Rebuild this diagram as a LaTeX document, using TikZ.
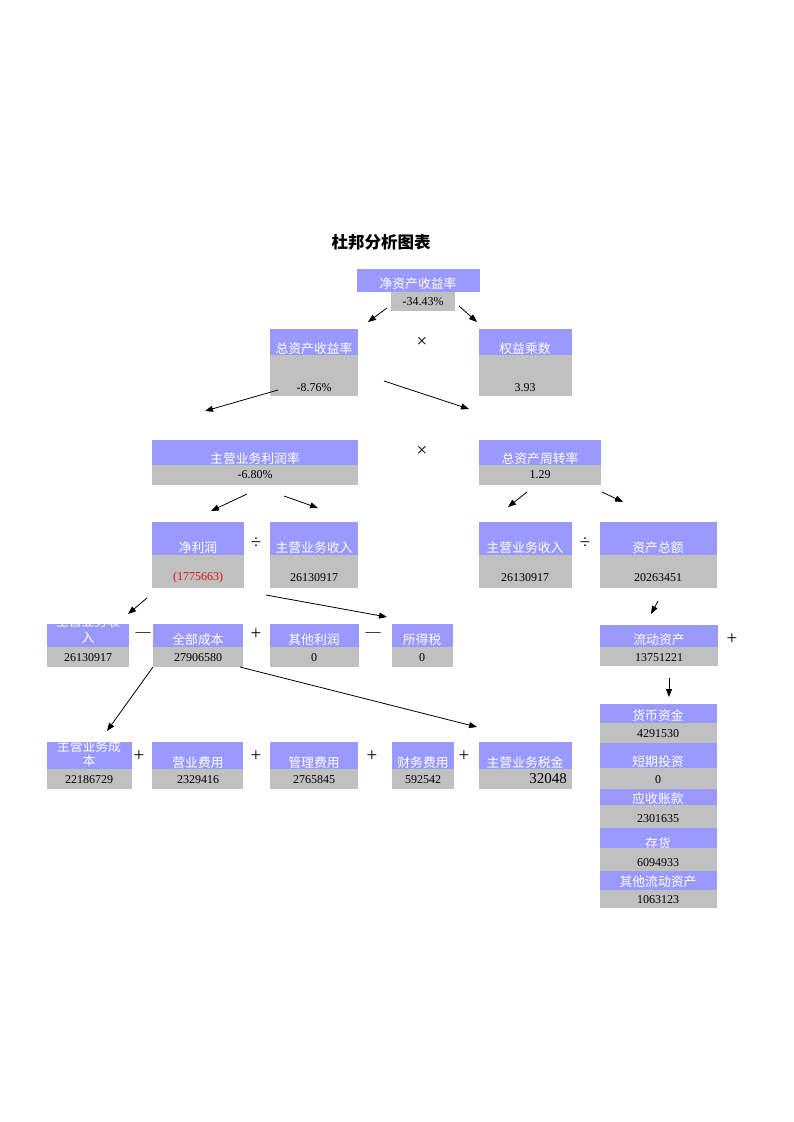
\documentclass[tikz,border=0pt]{standalone}
\usepackage{fontspec}
\setmainfont{Liberation Serif}
\newfontfamily\cjk{Noto Sans CJK SC}
\usetikzlibrary{arrows.meta}
\definecolor{bluec}{HTML}{9999FF}
\definecolor{grayc}{HTML}{C0C0C0}
\definecolor{redc}{HTML}{DD1111}
\newcommand\cell[6]{\node[#6, anchor=north west, minimum width={#4-#2}, minimum height={#5-#3}] (#1) at (#2,#3) {};}
\begin{document}
\begin{tikzpicture}[x=1pt,y=-1pt,
  bb/.style={fill=bluec, draw=none, inner sep=0pt, outer sep=0pt},
  gb/.style={fill=grayc, draw=none, inner sep=0pt, outer sep=0pt},
  lbl/.style={inner sep=0pt, text=white, font=\cjk\fontsize{12.8}{14}\selectfont},
  val/.style={inner sep=0pt, text=black, font=\fontsize{12}{13}\selectfont},
  op/.style={inner sep=0pt, font=\fontsize{19}{20}\selectfont},
  arr/.style={line width=0.8pt, -{Triangle[length=8pt,width=6pt]}}]
\fill[white] (0,0) rectangle (793,1122);
\useasboundingbox (0,0) rectangle (793,1122);
\node[inner sep=0pt, font=\cjk\bfseries\fontsize{16.5}{18}\selectfont] (title) at (381,242) {杜邦分析图表};
% row 1
\cell{r1b}{357}{269}{480}{292}{bb}
\node[lbl] (r1l) at (418,284) {净资产收益率};
\cell{r1g}{391}{292}{455}{311}{gb}
\node[val] (r1v) at (423,302) {-34.43\%};
\coordinate (a1s) at (387,308); \coordinate (a1e) at (368,322);
\coordinate (a2s) at (459,306); \coordinate (a2e) at (477,322);
\draw[arr] (a1s) -- (a1e);
\draw[arr] (a2s) -- (a2e);
% row 2
\cell{r2ab}{270}{329}{358}{355}{bb}
\node[lbl] (r2al) at (314,349) {总资产收益率};
\cell{r2ag}{270}{355}{358}{396}{gb}
\node[val] (r2av) at (314,388) {-8.76\%};
\node[op] (x1) at (422,342) {×};
\cell{r2bb}{479}{329}{572}{355}{bb}
\node[lbl] (r2bl) at (525,349) {权益乘数};
\cell{r2bg}{479}{355}{572}{396}{gb}
\node[val] (r2bv) at (525,388) {3.93};
\coordinate (a3s) at (278,390); \coordinate (a3e) at (205,411);
\coordinate (a4s) at (384,381); \coordinate (a4e) at (469,409);
\draw[arr] (a3s) -- (a3e);
\draw[arr] (a4s) -- (a4e);
% row 3
\cell{r3ab}{152}{440}{358}{465}{bb}
\node[lbl] (r3al) at (255,459) {主营业务利润率};
\cell{r3ag}{152}{465}{358}{485}{gb}
\node[val] (r3av) at (255,475) {-6.80\%};
\node[op] (x2) at (422,451) {×};
\cell{r3bb}{479}{440}{601}{465}{bb}
\node[lbl] (r3bl) at (540,459) {总资产周转率};
\cell{r3bg}{479}{465}{601}{485}{gb}
\node[val] (r3bv) at (540,475) {1.29};
\coordinate (a5s) at (247,494); \coordinate (a5e) at (211,511);
\coordinate (a6s) at (284,496); \coordinate (a6e) at (318,508);
\coordinate (a7s) at (527,492); \coordinate (a7e) at (508,507);
\coordinate (a8s) at (602,492); \coordinate (a8e) at (623,502);
\draw[arr] (a5s) -- (a5e);
\draw[arr] (a6s) -- (a6e);
\draw[arr] (a7s) -- (a7e);
\draw[arr] (a8s) -- (a8e);
% row 4
\cell{r4ab}{152}{522}{244}{555}{bb}
\node[lbl] (r4al) at (198,548) {净利润};
\cell{r4ag}{152}{555}{244}{588}{gb}
\node[val, text=redc] (r4av) at (198,578) {(1775663)};
\node[op] (d1) at (256,543) {÷};
\cell{r4bb}{270}{522}{358}{555}{bb}
\node[lbl] (r4bl) at (314,548) {主营业务收入};
\cell{r4bg}{270}{555}{358}{588}{gb}
\node[val] (r4bv) at (314,578) {26130917};
\cell{r4cb}{479}{522}{572}{555}{bb}
\node[lbl] (r4cl) at (525,548) {主营业务收入};
\cell{r4cg}{479}{555}{572}{588}{gb}
\node[val] (r4cv) at (525,578) {26130917};
\node[op] (d2) at (585,543) {÷};
\cell{r4db}{600}{522}{717}{555}{bb}
\node[lbl] (r4dl) at (658,548) {资产总额};
\cell{r4dg}{600}{555}{717}{588}{gb}
\node[val] (r4dv) at (658,578) {20263451};
\coordinate (a9s) at (147,598); \coordinate (a9e) at (128,614);
\coordinate (a10s) at (266,595); \coordinate (a10e) at (387,617);
\coordinate (a11s) at (658,601); \coordinate (a11e) at (651,614);
\draw[arr] (a9s) -- (a9e);
\draw[arr] (a10s) -- (a10e);
\draw[arr] (a11s) -- (a11e);
% row 5
\cell{r5ab}{47}{624}{129}{647}{bb}
\begin{scope}
\clip (47,624) rectangle (129,647);
\node[lbl] (r5al1) at (88,622) {主营业务收};
\node[lbl] (r5al2) at (88,638) {入};
\end{scope}
\cell{r5ag}{47}{647}{129}{667}{gb}
\node[val] (r5av) at (88,658) {26130917};
\node[op, font=\fontsize{15}{16}\selectfont] (m1) at (143,635) {—};
\cell{r5bb}{153}{624}{243}{647}{bb}
\node[lbl] (r5bl) at (198,640) {全部成本};
\cell{r5bg}{153}{647}{243}{667}{gb}
\node[val] (r5bv) at (198,658) {27906580};
\node[op] (p1) at (256,634) {+};
\cell{r5cb}{270}{624}{359}{647}{bb}
\node[lbl] (r5cl) at (314,640) {其他利润};
\cell{r5cg}{270}{647}{359}{667}{gb}
\node[val] (r5cv) at (314,658) {0};
\node[op, font=\fontsize{15}{16}\selectfont] (m2) at (373,635) {—};
\cell{r5db}{392}{624}{453}{647}{bb}
\node[lbl] (r5dl) at (422,640) {所得税};
\cell{r5dg}{392}{647}{453}{667}{gb}
\node[val] (r5dv) at (422,658) {0};
\cell{r5eb}{600}{625}{718}{647}{bb}
\node[lbl] (r5el) at (659,640) {流动资产};
\cell{r5eg}{600}{647}{718}{666}{gb}
\node[val] (r5ev) at (659,658) {13751221};
\node[op] (p2) at (732,639) {+};
\coordinate (a12s) at (669,678); \coordinate (a12e) at (669,697);
\coordinate (a13s) at (153,667); \coordinate (a13e) at (107,731);
\coordinate (a14s) at (240,667); \coordinate (a14e) at (477,727);
\draw[arr] (a12s) -- (a12e);
\draw[arr] (a13s) -- (a13e);
\draw[arr] (a14s) -- (a14e);
% row 6
\cell{r6ab}{47}{742}{132}{769}{bb}
\begin{scope}
\clip (47,742) rectangle (132,769);
\node[lbl] (r6al1) at (89,747) {主营业务成};
\node[lbl] (r6al2) at (89,761) {本};
\end{scope}
\cell{r6ag}{47}{769}{132}{789}{gb}
\node[val] (r6av) at (89,780) {22186729};
\node[op] (p3) at (139,756) {+};
\cell{r6bb}{152}{742}{243}{769}{bb}
\node[lbl] (r6bl) at (198,763) {营业费用};
\cell{r6bg}{152}{769}{243}{789}{gb}
\node[val] (r6bv) at (198,780) {2329416};
\node[op] (p4) at (256,756) {+};
\cell{r6cb}{270}{742}{358}{769}{bb}
\node[lbl] (r6cl) at (314,763) {管理费用};
\cell{r6cg}{270}{769}{358}{789}{gb}
\node[val] (r6cv) at (314,780) {2765845};
\node[op] (p5) at (372,756) {+};
\cell{r6db}{392}{742}{454}{769}{bb}
\node[lbl] (r6dl) at (423,763) {财务费用};
\cell{r6dg}{392}{769}{454}{789}{gb}
\node[val] (r6dv) at (423,780) {592542};
\node[op] (p6) at (464,756) {+};
\cell{r6eb}{479}{742}{572}{769}{bb}
\node[lbl] (r6el) at (525,763) {主营业务税金};
\cell{r6eg}{479}{769}{572}{789}{gb}
\node[val, anchor=east, font=\fontsize{15}{16}\selectfont] (r6ev) at (567,779) {32048};
% right column
\cell{c1b}{600}{704}{717}{723}{bb}
\node[lbl] (c1l) at (658,716) {货币资金};
\cell{c1g}{600}{723}{717}{743}{gb}
\node[val] (c1v) at (658,734) {4291530};
\cell{c2b}{600}{743}{717}{768}{bb}
\node[lbl] (c2l) at (658,762) {短期投资};
\cell{c2g}{600}{768}{717}{789}{gb}
\node[val] (c2v) at (658,780) {0};
\cell{c3b}{600}{789}{717}{805}{bb}
\node[lbl] (c3l) at (658,799) {应收账款};
\cell{c3g}{600}{805}{717}{828}{gb}
\node[val] (c3v) at (658,819) {2301635};
\cell{c4b}{600}{828}{717}{848}{bb}
\node[lbl] (c4l) at (658,844) {存货};
\cell{c4g}{600}{848}{717}{871}{gb}
\node[val] (c4v) at (658,863) {6094933};
\cell{c5b}{600}{871}{717}{890}{bb}
\node[lbl] (c5l) at (658,882) {其他流动资产};
\cell{c5g}{600}{890}{717}{908}{gb}
\node[val] (c5v) at (658,900) {1063123};
\end{tikzpicture}
\end{document}
